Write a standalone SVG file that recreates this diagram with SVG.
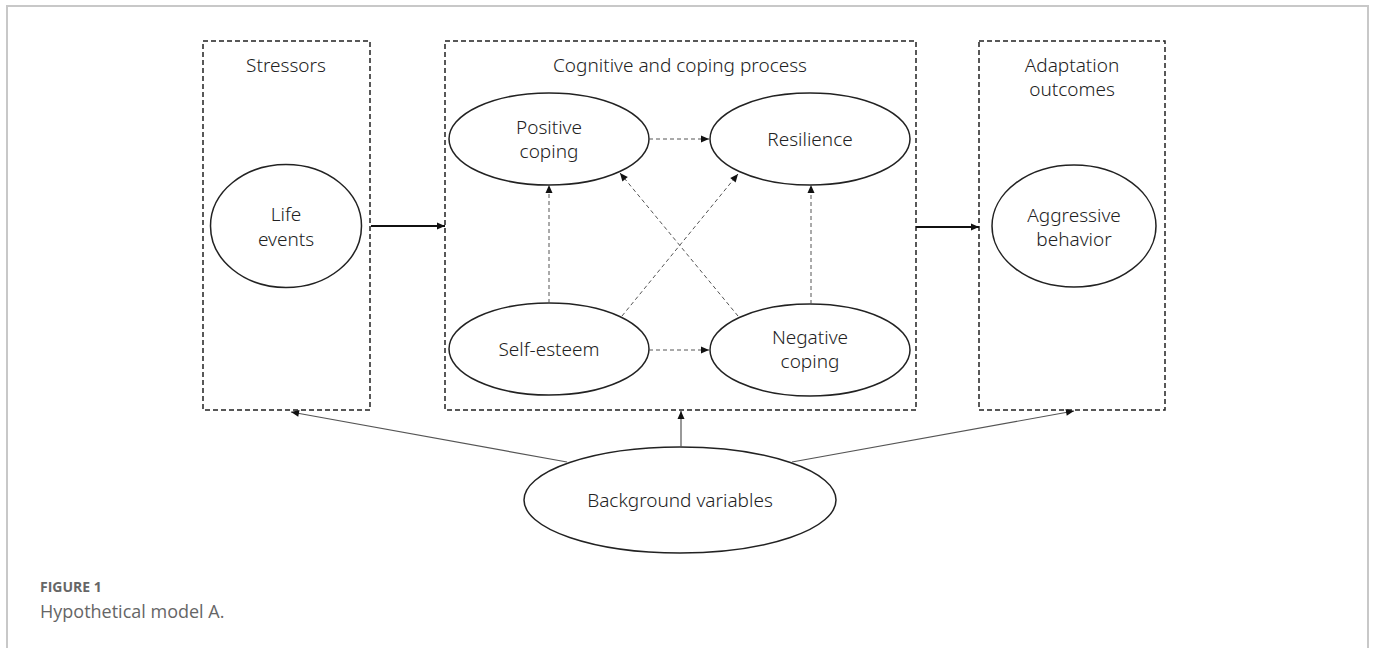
<svg xmlns="http://www.w3.org/2000/svg" width="1375" height="648" viewBox="0 0 1375 648">
<style>
.frame{fill:#fff;stroke:#c8c8c8;stroke-width:2}
.box{fill:none;stroke:#222;stroke-width:1.5;stroke-dasharray:5 3}
.ell{fill:#fff;stroke:#222;stroke-width:1.5}
.t{font-family:"Noto Sans","Liberation Sans",sans-serif;font-size:19px;font-weight:300;fill:#222;text-anchor:middle}
.thick{stroke:#111;stroke-width:2;fill:none}
.dash{stroke:#555;stroke-width:1;stroke-dasharray:4 3;fill:none}
.thin{stroke:#555;stroke-width:1.2;fill:none}
.cap1{font-family:"Open Sans","Liberation Sans",sans-serif;font-size:14px;font-weight:bold;fill:#666}
.cap2{font-family:"Open Sans","Liberation Sans",sans-serif;font-size:18px;fill:#666}
</style>
<defs>
<marker id="ah" markerUnits="userSpaceOnUse" markerWidth="10" markerHeight="10" viewBox="0 0 10 10" refX="9" refY="5" orient="auto">
<path d="M1,1.5 L9,5 L1,8.5 Z" fill="#111"/>
</marker>
</defs>
<rect class="frame" x="7" y="6" width="1361" height="660"/>

<g id="stressors">
<rect class="box" x="203" y="41" width="167" height="369"/>
<text class="t" x="286" y="72">Stressors</text>
</g>
<g id="life-events">
<ellipse class="ell" cx="286" cy="226" rx="75.5" ry="61.5"/>
<text class="t" x="286" y="221">Life</text>
<text class="t" x="286" y="246">events</text>
</g>

<g id="cognitive">
<rect class="box" x="445" y="41" width="471" height="369"/>
<text class="t" x="680" y="72">Cognitive and coping process</text>
</g>
<g id="positive-coping">
<ellipse class="ell" cx="549" cy="139" rx="100" ry="46"/>
<text class="t" x="549" y="134">Positive</text>
<text class="t" x="549" y="158">coping</text>
</g>
<g id="resilience">
<ellipse class="ell" cx="810" cy="139" rx="100" ry="46"/>
<text class="t" x="810" y="146">Resilience</text>
</g>
<g id="self-esteem">
<ellipse class="ell" cx="549" cy="349" rx="100" ry="46"/>
<text class="t" x="549" y="356">Self-esteem</text>
</g>
<g id="negative-coping">
<ellipse class="ell" cx="810" cy="350" rx="100" ry="46"/>
<text class="t" x="810" y="344">Negative</text>
<text class="t" x="810" y="368">coping</text>
</g>

<g id="adaptation">
<rect class="box" x="979" y="41" width="186" height="369"/>
<text class="t" x="1072" y="72">Adaptation</text>
<text class="t" x="1072" y="96">outcomes</text>
</g>
<g id="aggressive">
<ellipse class="ell" cx="1074" cy="226" rx="82" ry="61"/>
<text class="t" x="1074" y="222">Aggressive</text>
<text class="t" x="1074" y="246">behavior</text>
</g>

<g id="background">
<ellipse class="ell" cx="680" cy="500" rx="156" ry="53"/>
<text class="t" x="680" y="507">Background variables</text>
</g>

<g id="connectors">
<line class="thick" x1="371" y1="226" x2="445" y2="226" marker-end="url(#ah)"/>
<line class="thick" x1="916" y1="227" x2="979" y2="227" marker-end="url(#ah)"/>
<line class="dash" x1="649" y1="139" x2="709" y2="139" marker-end="url(#ah)"/>
<line class="dash" x1="649" y1="350" x2="709" y2="350" marker-end="url(#ah)"/>
<line class="dash" x1="549" y1="303" x2="549" y2="185" marker-end="url(#ah)"/>
<line class="dash" x1="811" y1="304" x2="811" y2="185" marker-end="url(#ah)"/>
<line class="dash" x1="622" y1="316" x2="738" y2="174" marker-end="url(#ah)"/>
<line class="dash" x1="738" y1="316" x2="620" y2="173" marker-end="url(#ah)"/>
<line class="thin" x1="681" y1="447" x2="681" y2="411" marker-end="url(#ah)"/>
<line class="thin" x1="567" y1="462" x2="291" y2="412" marker-end="url(#ah)"/>
<line class="thin" x1="792" y1="462" x2="1074" y2="411" marker-end="url(#ah)"/>
</g>

<text class="cap1" x="40" y="592">FIGURE 1</text>
<text class="cap2" x="40" y="618">Hypothetical model A.</text>
</svg>
